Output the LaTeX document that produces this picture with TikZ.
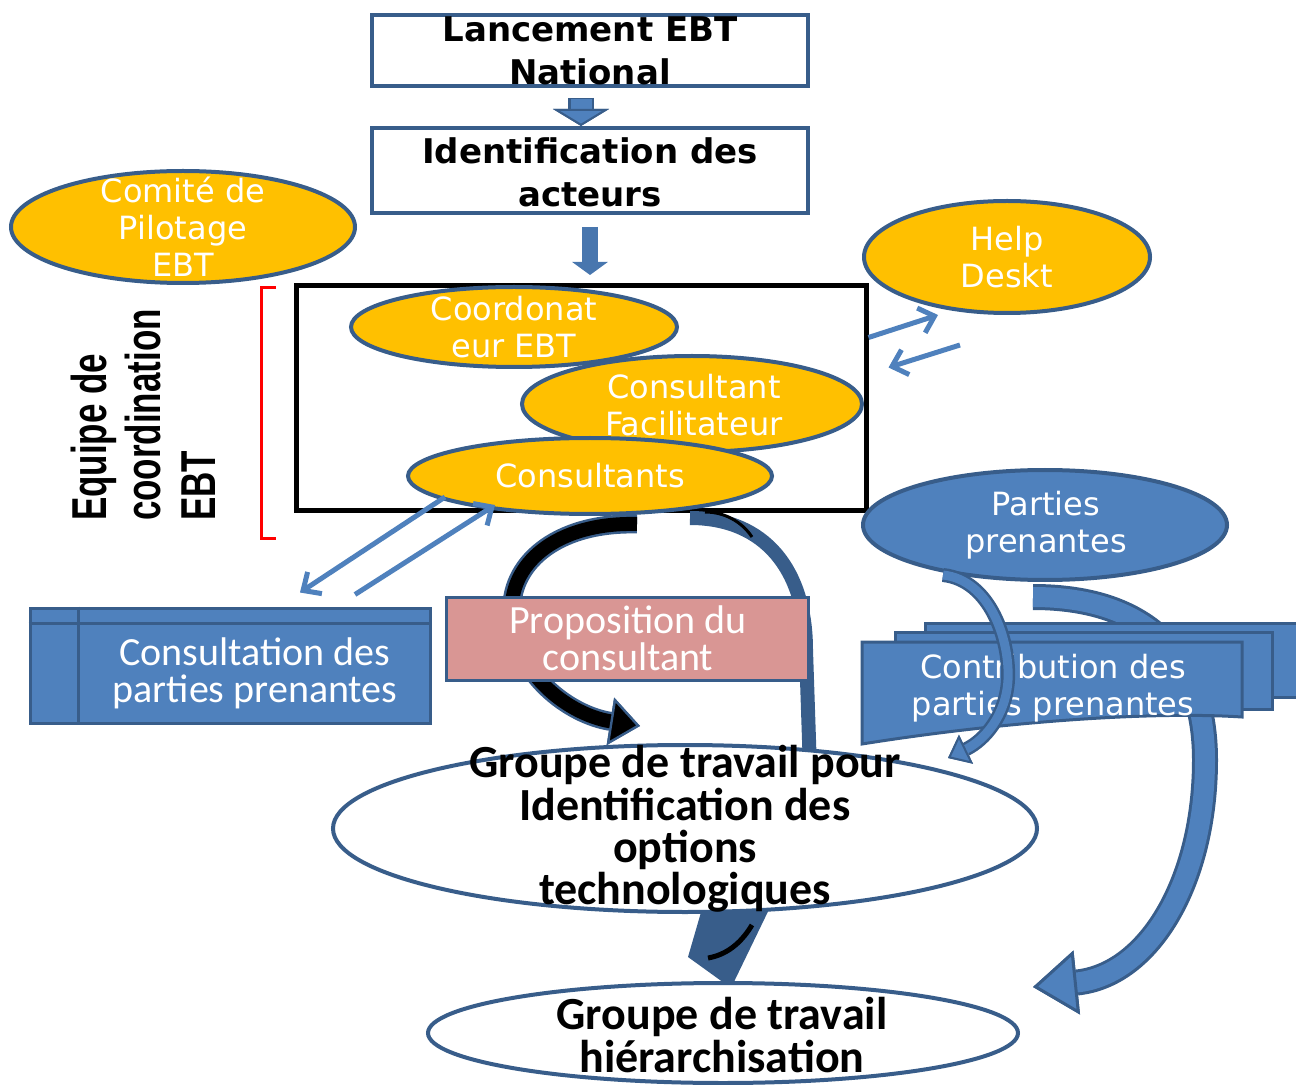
\documentclass[tikz,border=0pt]{standalone}
\usepackage{fontspec}
\setmainfont{DejaVu Sans}
\newfontfamily\calib{Carlito}
\newfontfamily\arialf{Liberation Sans}
\definecolor{ebtblue}{RGB}{79,129,189}
\definecolor{ebtdark}{RGB}{56,93,138}
\definecolor{ebtyellow}{RGB}{255,192,0}
\definecolor{ebtpink}{RGB}{217,150,148}
\usetikzlibrary{arrows.meta,shapes.geometric}

\begin{document}
\begin{tikzpicture}[x=0.5pt,y=-0.5pt,
  titlebox/.style={draw=ebtdark,line width=2pt,fill=white,inner sep=0pt},
  yoval/.style={ellipse,draw=ebtdark,line width=2pt,fill=ebtyellow,inner sep=0pt},
  boval/.style={ellipse,draw=ebtdark,line width=2pt,fill=ebtblue,inner sep=0pt},
  woval/.style={ellipse,draw=ebtdark,line width=2pt,fill=white,inner sep=0pt},
  bluebox/.style={draw=ebtdark,line width=1.5pt,fill=ebtblue,inner sep=0pt},
  bigtxt/.style={font={\bfseries\fontsize{17}{21.5}\selectfont},align=center,inner sep=0pt},
  ovaltxt/.style={text=white,font={\fontsize{16}{18.5}\selectfont},align=center,inner sep=0pt},
  calitxt/.style={text=white,font={\calib\fontsize{20}{18.5}\selectfont\lineskiplimit=-20pt},align=center,inner sep=0pt},
  grptxt/.style={font={\calib\bfseries\fontsize{23}{21.2}\selectfont\lineskiplimit=-20pt},align=center,inner sep=0pt},
  thinarrow/.style={ebtblue,line width=2.5pt,-{Straight Barb[length=7pt,width=13pt]}},
]
\useasboundingbox (0,0) rectangle (1296,1085);

\node[titlebox,minimum width=218pt,minimum height=35.5pt] (lanc) at (590,50.5) {};
\node[bigtxt] (lanctxt) at (590,51) {Lancement EBT\\National};
\node[titlebox,minimum width=218pt,minimum height=42.5pt] (ident) at (590,170.5) {};
\node[bigtxt] (identtxt) at (590,172) {Identification des\\acteurs};
\draw[ebtdark,line width=13pt,-{Triangle[width=28pt,length=8.5pt,line width=0pt]}] ([xshift=-4.5pt,yshift=-5pt]lanc.south) -- ([xshift=-4.5pt]ident.north);
\draw[ebtblue,line width=10.5pt,-{Triangle[width=28pt,length=8.5pt,line width=1pt,fill=ebtblue,color=ebtdark]}] ([xshift=-4.5pt,yshift=-5.5pt]lanc.south) -- ([xshift=-4.5pt]ident.north);
\draw[ebtblue!70!ebtdark,line width=8pt,-{Triangle[width=17.5pt,length=6.5pt]}] ([yshift=-6pt]ident.south) -- ([yshift=-30pt]ident.south);

\node[yoval,minimum width=172pt,minimum height=56pt] (comite) at (183,227) {};
\node[ovaltxt] (comitetxt) at (comite) {Comité de\\Pilotage\\EBT};

\draw[red,line width=1.5pt] (276,288) -- (261,288) -- (261,538) -- (276,538);
\node[rotate=90,yscale=1.4,font={\arialf\bfseries\fontsize{17.5}{19.5}\selectfont},align=left,inner sep=0pt] (equipe) at (143,415) {Equipe de\\coordination\\EBT};

\node[draw=black,line width=2.5pt,fill=white,minimum width=285pt,minimum height=112.5pt,inner sep=0pt] (team) at (581,398.5) {};
\node[yoval,minimum width=163pt,minimum height=40pt] (coord) at (514,327) {};
\node[ovaltxt] (coordtxt) at (coord) {Coordonat\\eur EBT};
\node[yoval,minimum width=170pt,minimum height=48pt] (facil) at (692,404) {};
\node[ovaltxt] (faciltxt) at (694,405) {Consultant\\Facilitateur};
\node[yoval,minimum width=182pt,minimum height=38pt] (consults) at (590,476) {};
\node[ovaltxt] (consultstxt) at (consults) {Consultants};

\node[yoval,minimum width=143pt,minimum height=56pt] (help) at (1007,257) {};
\node[ovaltxt] (helptxt) at (help) {Help\\Deskt};
\draw[thinarrow] ([yshift=-27pt]team.north east) -- ([xshift=-34.5pt]help.south);
\draw[thinarrow] ([xshift=-23.5pt,yshift=-15pt]help.south) -- ([xshift=10pt,yshift=-42pt]team.north east);

\node[bluebox,minimum width=200pt,minimum height=57.5pt] (consult) at (230,665.5) {};
\draw[ebtdark,line width=1.5pt] ([yshift=-8.5pt]consult.north west) -- ([yshift=-8.5pt]consult.north east);
\draw[ebtdark,line width=1.5pt] ([xshift=25pt]consult.north west) -- ([xshift=25pt]consult.south west);
\node[calitxt] (consulttxt) at (255,673) {Consultation des\\parties prenantes};
\draw[thinarrow] ([xshift=-72.5pt,yshift=-10.5pt]consults.center) -- ([xshift=35pt,yshift=7pt]consult.north);
\draw[thinarrow] ([xshift=62.5pt,yshift=6pt]consult.north) -- ([xshift=-47.5pt,yshift=-14.5pt]consults.center);

\coordinate (bandtail) at (690,518);
\coordinate (bandend) at (810,770);
\draw[ebtdark,line width=7pt] (bandtail) .. controls (765,518) and (806,570) .. (806,650) -- (bandend);
\draw[black,line width=1.5pt] (705,512) .. controls (725,512) and (742,522) .. (752,537);

\coordinate (btail) at (637,524);
\coordinate (bhead) at (640,726);
\draw[ebtdark,line width=9.5pt,-{Triangle[width=24pt,length=15pt,line width=0pt]}] (btail) .. controls (555,522) and (508,565) .. (512,615) .. controls (515,675) and (570,715) .. (bhead);
\draw[black,line width=7pt,-{Triangle[width=24pt,length=15pt,line width=1.2pt,fill=black,color=ebtdark]}] (btail) .. controls (555,522) and (508,565) .. (512,615) .. controls (515,675) and (570,715) .. (bhead);

\node[draw=ebtdark,line width=1.5pt,fill=ebtpink,minimum width=181pt,minimum height=41.5pt,inner sep=0pt] (prop) at (627,638.5) {};
\node[calitxt] (proptxt) at (628,638) {Proposition du\\consultant};

\coordinate (ghead) at (688,957);
\fill[ebtdark] (706,895) -- (776,895) -- (731,988) -- (ghead) -- cycle;
\draw[black,line width=2.5pt] (752,925) .. controls (740,945) and (725,955) .. (708,958);

\coordinate (ptail) at (1033,597);
\coordinate (phead) at (1033,987);
\draw[ebtdark,line width=13pt,-{Triangle[width=32pt,length=22pt,line width=0pt]}] (ptail) .. controls (1150,597) and (1205,660) .. (1205,760) .. controls (1205,880) and (1150,975) .. (phead);
\draw[ebtblue,line width=10pt,-{Triangle[width=32pt,length=22pt,line width=1.5pt,fill=ebtblue,color=ebtdark]}] (ptail) .. controls (1150,597) and (1205,660) .. (1205,760) .. controls (1205,880) and (1150,975) .. (phead);

\node[boval,minimum width=182pt,minimum height=55pt] (parties) at (1045,525) {};
\node[ovaltxt] (partiestxt) at (1046,525) {Parties\\prenantes};

\node[bluebox,minimum width=192.5pt,minimum height=37pt] (cback) at (1117.5,660) {};
\node[bluebox,minimum width=188.5pt,minimum height=38.5pt] (cmid) at (1083.5,670.5) {};
\draw[ebtdark,line width=1.5pt,fill=ebtblue] (862,642) -- (1242,642) -- (1242,717) .. controls (1150,711) and (1000,722) .. (862,744) -- cycle;
\node[ovaltxt] (contribtxt) at (1053,688) {Contribution des\\parties prenantes};

\coordinate (qtail) at (943,575);
\coordinate (qhead) at (948,758);
\draw[ebtdark,line width=7pt,-{Triangle[width=16pt,length=10pt,line width=0pt]}] (qtail) .. controls (990,580) and (1010,640) .. (1008,680) .. controls (1006,715) and (985,740) .. (qhead);
\draw[ebtblue,line width=4.5pt,-{Triangle[width=16pt,length=10pt,line width=1pt,fill=ebtblue,color=ebtdark]}] (qtail) .. controls (990,580) and (1010,640) .. (1008,680) .. controls (1006,715) and (985,740) .. (qhead);

\node[woval,minimum width=352pt,minimum height=83.5pt] (grp) at (685,828.5) {};
\node[grptxt] (grptxt) at (685,829) {Groupe de travail pour\\Identification des\\options\\technologiques};
\node[woval,minimum width=295pt,minimum height=50pt] (hier) at (723,1033) {};
\node[grptxt] (hiertxt) at (722,1035) {Groupe de travail\\hiérarchisation};
\end{tikzpicture}
\end{document}
